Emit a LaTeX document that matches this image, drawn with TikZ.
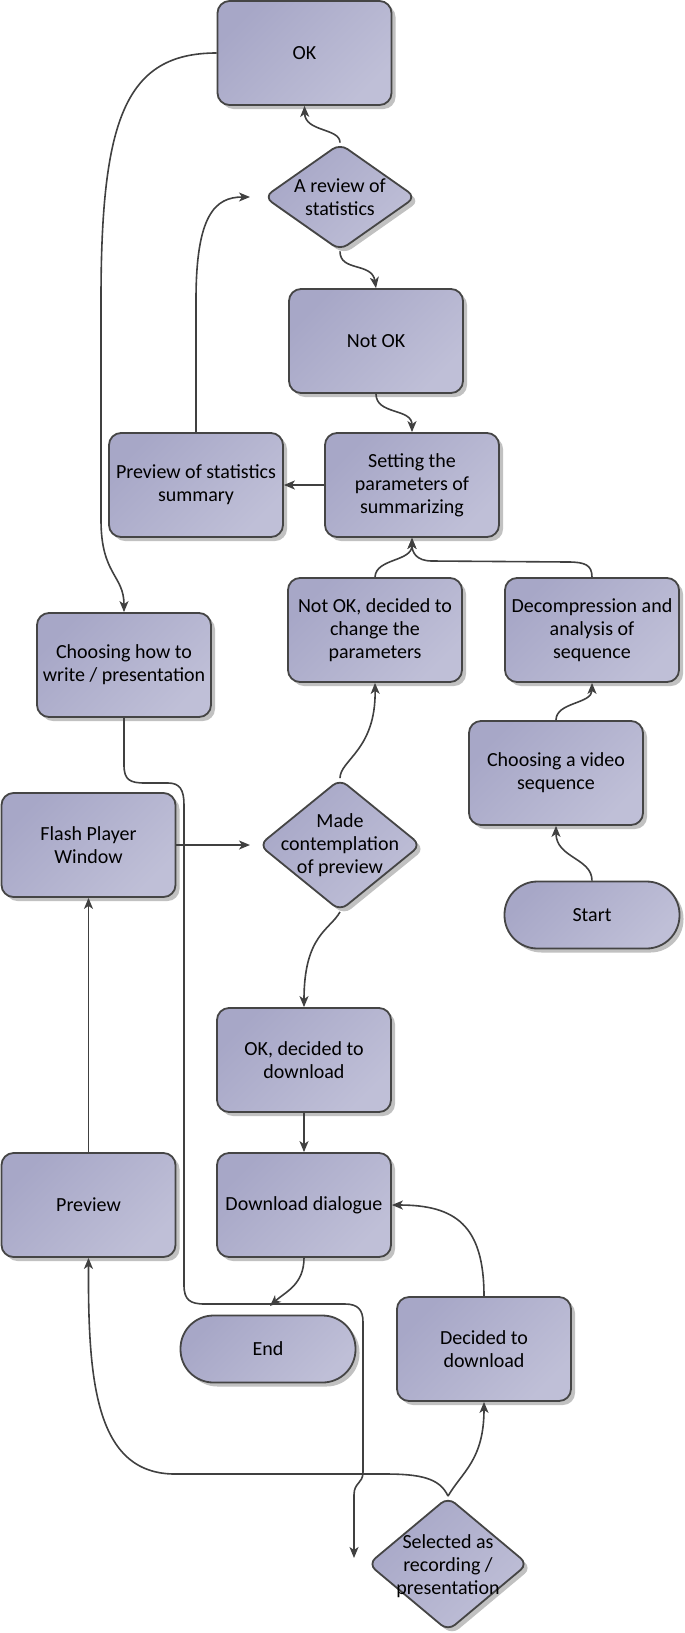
\documentclass[tikz,border=0pt]{standalone}
\usepackage{fontspec}
\setmainfont{Carlito}
\usetikzlibrary{shapes.geometric,shadows,arrows.meta}
\definecolor{edge}{HTML}{454545}
\definecolor{fillA}{HTML}{A7A7C7}
\definecolor{fillC}{HTML}{BFBFD7}
\definecolor{linec}{HTML}{404040}
\tikzset{
  shapebase/.style={draw=edge, line width=1.8pt,
    top color=fillA, bottom color=fillC, shading angle=45,
    drop shadow={shadow xshift=4pt, shadow yshift=-4pt, opacity=0.35, fill=black!70},
    font=\fontsize{20}{23}\selectfont, align=center, text=black},
  box/.style={shapebase, rectangle, rounded corners=12pt, minimum width=174pt, minimum height=104pt, inner sep=2pt},
  term/.style={shapebase, rectangle, rounded corners=33pt, minimum width=175pt, minimum height=67pt},
  dia/.style={shapebase, diamond, inner sep=0pt, rounded corners=9pt},
  txt/.style={font=\fontsize{20}{23}\selectfont, align=center, text=black},
  conn/.style={draw=linec, line width=1.6pt, -{Stealth[length=11pt,width=9pt,inset=3pt]}}
}
\begin{document}
\begin{tikzpicture}[x=1pt,y=-1pt]
\useasboundingbox (0,0) rectangle (685,1633);

\node[box] (ok) at (304.5,53) {OK};
\node[dia, minimum width=152pt, minimum height=107pt] (rev) at (340,197) {};
\node[txt] (revt) at (rev) {A review of\\statistics};
\node[box] (notok) at (376,341) {Not OK};
\node[box] (set) at (412,485) {Setting the\\parameters of\\summarizing};
\node[box] (prev) at (196,485) {Preview of statistics\\summary};
\node[box] (nokdec) at (375,630) {Not OK, decided to\\change the\\parameters};
\node[box] (decomp) at (592,630) {Decompression and\\analysis of\\sequence};
\node[box] (how) at (124,665) {Choosing how to\\write / presentation};
\node[box] (vid) at (556,773) {Choosing a video\\sequence};
\node[term] (start) at (592,915) {Start};
\node[box] (flash) at (88.5,845) {Flash Player\\Window};
\node[dia, minimum width=162pt, minimum height=132pt] (made) at (340,845) {};
\node[txt] (madet) at (made) {Made\\contemplation\\of preview};
\node[box] (okdec) at (304,1060) {OK, decided to\\download};
\node[box] (dl) at (304,1205) {Download dialogue};
\node[box] (pv) at (88.5,1205) {Preview};
\node[term] (end) at (268,1349) {End};
\node[box] (dec) at (484,1349) {Decided to\\download};
\node[dia, minimum width=160pt, minimum height=134pt] (sel) at (448,1564) {};
\node[txt] (selt) at (448,1566) {Selected as\\recording /\\presentation};

\coordinate (revin) at (250,197);
\coordinate (madein) at (250,845);
\coordinate (endin) at (270,1306);
\coordinate (selin) at (354,1558);

\draw[conn] (rev.north) .. controls (340,128) and (305,132) .. (ok.south);
\draw[conn] (ok.west) .. controls (125,53) and (101,120) .. (101,300) -- (101,520) .. controls (101,575) and (124,575) .. (how.north);
\draw[conn] (rev.south) .. controls (340,272) and (372,262) .. (notok.north);
\draw[conn] (notok.south) .. controls (376,415) and (412,408) .. (set.north);
\draw[conn] (set.west) -- (prev.east);
\draw[conn] (prev.north) -- (196,300) .. controls (196,215) and (215,197) .. (revin);
\draw[conn] (nokdec.north) .. controls (376,558) and (412,562) .. (set.south);
\draw[conn] (decomp.north) .. controls (592,565) and (585,562) .. (568,562) -- (432,561) .. controls (416,561) and (412,552) .. (set.south);
\draw[conn] (vid.north) .. controls (556,702) and (592,704) .. (decomp.south);
\draw[conn] (start.north) .. controls (592,858) and (556,858) .. (vid.south);
\draw[conn] (how.south) -- (124,765) .. controls (124,780) and (130,783) .. (145,783) -- (168,783) .. controls (180,783) and (184,790) .. (184,805) -- (184,1285) .. controls (184,1300) and (190,1304) .. (205,1304) -- (345,1304) .. controls (358,1304) and (363,1310) .. (363,1322) -- (363,1472) .. controls (363,1484) and (354,1482) .. (354,1495) -- (selin);
\draw[conn] (flash.east) -- (madein);
\draw[conn] (made.north) .. controls (340,760) and (376,750) .. (nokdec.south);
\draw[conn] (made.south) .. controls (330,930) and (304,935) .. (okdec.north);
\draw[conn] (okdec.south) -- (dl.north);
\draw[conn] (dl.south) .. controls (304,1285) and (285,1292) .. (endin);
\draw[conn] (dec.north) .. controls (484,1225) and (455,1205) .. (dl.east);
\draw[conn] (pv.north) -- (flash.south);
\draw[conn] (sel.north) .. controls (462,1472) and (484,1460) .. (dec.south);
\draw[conn] (sel.north) .. controls (440,1478) and (420,1474) .. (385,1474) -- (175,1474) .. controls (95,1474) and (88,1380) .. (pv.south);
\end{tikzpicture}
\end{document}
